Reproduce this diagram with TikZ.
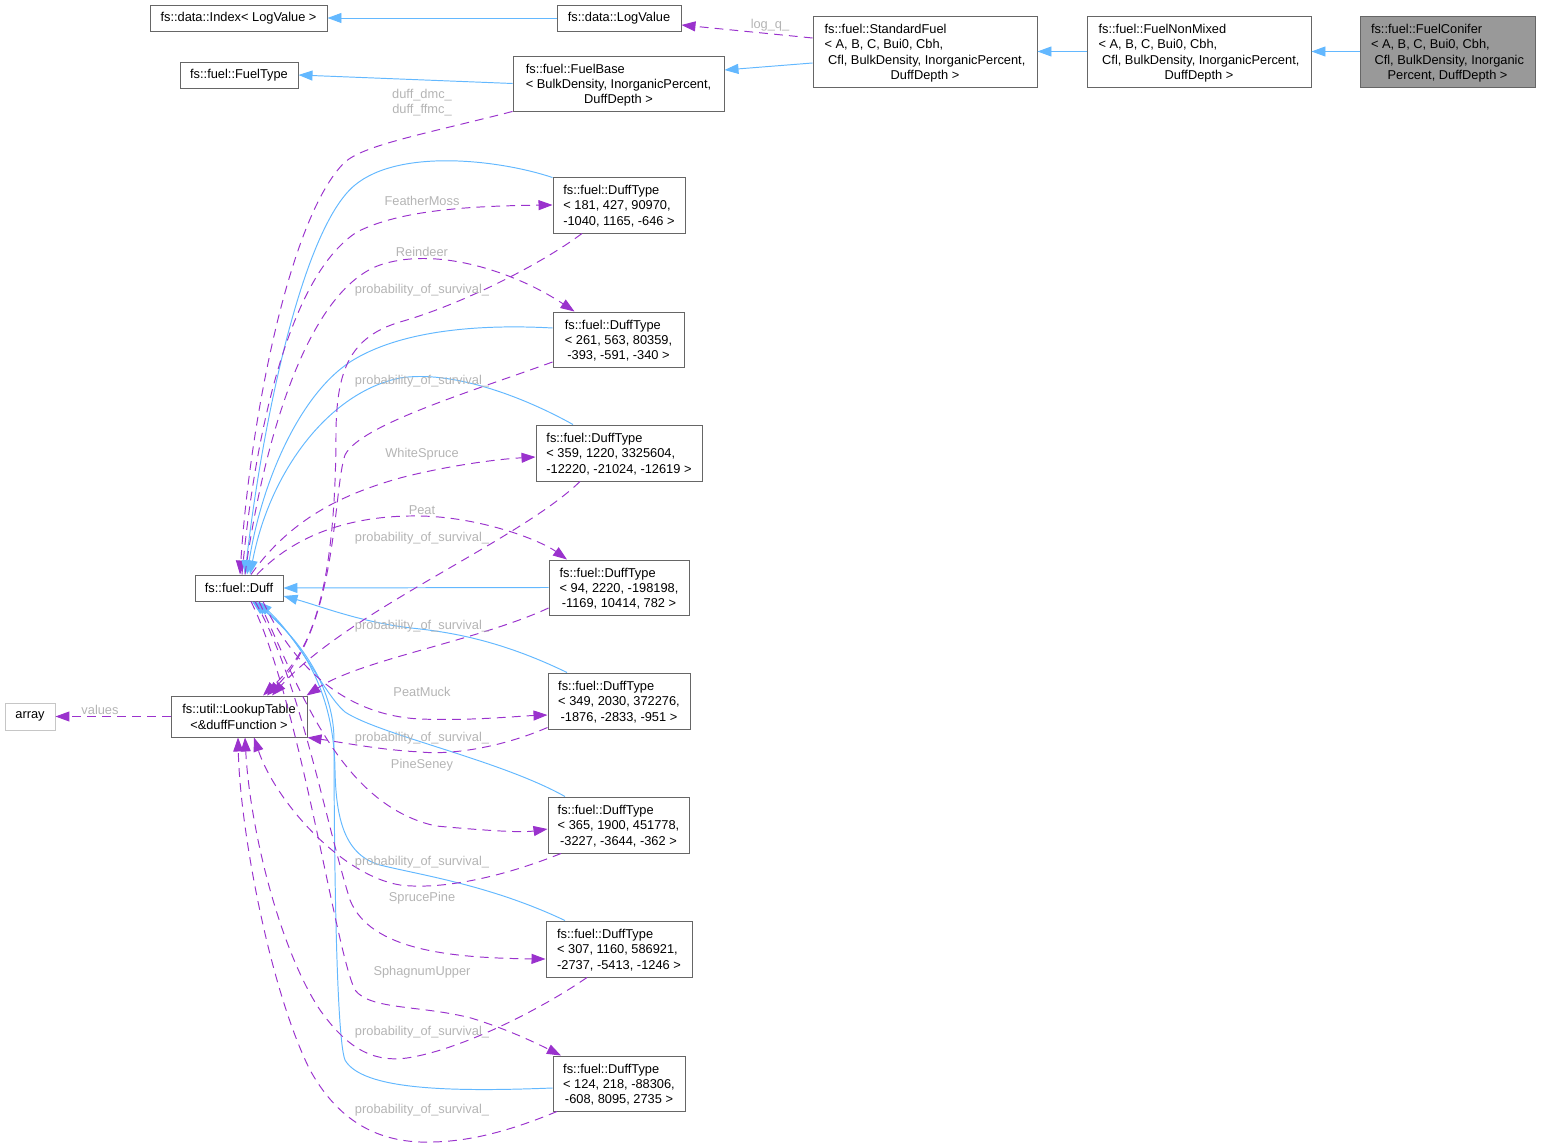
\documentclass[tikz,border=0pt]{standalone}
\usepackage{fontspec}
\setmainfont{Liberation Sans}
\usetikzlibrary{arrows.meta,calc}
\definecolor{inhblue}{HTML}{63B8FF}
\definecolor{usepurple}{HTML}{9A32CD}
\definecolor{boxgray}{HTML}{666666}
\definecolor{lblgray}{HTML}{B4B4B4}
\definecolor{selgray}{HTML}{999999}
\newcommand{\boxtext}[2]{\raisebox{-1.1pt}[\height][\depth]{\begin{tabular}{@{}l@{}}#1\\\multicolumn{1}{@{}c@{}}{#2}\end{tabular}}}

\begin{document}
\begin{tikzpicture}[x=0.02cm,y=-0.02cm,font=\fontsize{7.3}{8.6}\selectfont,
  cls/.style={draw=boxgray,fill=white,line width=0.55pt,inner sep=0pt},
  sz/.style 2 args={minimum width=#1*0.02cm,minimum height=#2*0.02cm},
  inh/.style={draw=inhblue,line width=0.55pt,-{Triangle[length=0.28cm,width=0.2cm]}},
  memb/.style={draw=usepurple,line width=0.55pt,dash pattern=on 5pt off 3.5pt,-{Triangle[length=0.28cm,width=0.2cm]}},
  lbl/.style={text=lblgray,inner sep=0pt,align=center}]

\useasboundingbox (0,0) rectangle (1541,1148);

\node[cls,sz={177}{26}] (idx) at (238.5,18) {fs::data::Index< LogValue >};
\node[cls,sz={124}{26}] (logv) at (619,18) {fs::data::LogValue};
\node[cls,sz={118}{26}] (ftype) at (239,75) {fs::fuel::FuelType};
\node[cls,sz={211}{55}] (fbase) at (618.5,83.5) {\boxtext{fs::fuel::FuelBase\\< BulkDensity, InorganicPercent,}{DuffDepth >}};
\node[cls,sz={224}{71}] (stdf) at (925,51.5) {\boxtext{fs::fuel::StandardFuel\\< A, B, C, Bui0, Cbh,\\\ Cfl, BulkDensity, InorganicPercent,}{DuffDepth >}};
\node[cls,sz={224}{71}] (nonmx) at (1199,51.5) {\boxtext{fs::fuel::FuelNonMixed\\< A, B, C, Bui0, Cbh,\\\ Cfl, BulkDensity, InorganicPercent,}{DuffDepth >}};
\node[cls,fill=selgray,sz={175}{71}] (conif) at (1447.5,51.5) {\boxtext{fs::fuel::FuelConifer\\< A, B, C, Bui0, Cbh,\\\ Cfl, BulkDensity, Inorganic}{Percent, DuffDepth >}};

\node[cls,sz={88}{26}] (duff) at (239,588) {fs::fuel::Duff};
\node[cls,sz={136}{41}] (lut) at (239,716.5) {\boxtext{fs::util::LookupTable}{<\&duffFunction >}};
\node[cls,draw=lightgray!90!white,sz={50}{27}] (arr) at (30,716.5) {array};

\node[cls,sz={132}{56}] (d1) at (619,205) {\boxtext{fs::fuel::DuffType\\< 181, 427, 90970,}{-1040, 1165, -646 >}};
\node[cls,sz={131}{55}] (d2) at (618.5,339.5) {\boxtext{fs::fuel::DuffType\\< 261, 563, 80359,}{-393, -591, -340 >}};
\node[cls,sz={166}{56}] (d3) at (619,453) {\boxtext{fs::fuel::DuffType\\< 359, 1220, 3325604,}{-12220, -21024, -12619 >}};
\node[cls,sz={140}{55}] (d4) at (619,587.5) {\boxtext{fs::fuel::DuffType\\< 94, 2220, -198198,}{-1169, 10414, 782 >}};
\node[cls,sz={142}{56}] (d5) at (619,701) {\boxtext{fs::fuel::DuffType\\< 349, 2030, 372276,}{-1876, -2833, -951 >}};
\node[cls,sz={141}{56}] (d6) at (618.5,825) {\boxtext{fs::fuel::DuffType\\< 365, 1900, 451778,}{-3227, -3644, -362 >}};
\node[cls,sz={146}{56}] (d7) at (619,949) {\boxtext{fs::fuel::DuffType\\< 307, 1160, 586921,}{-2737, -5413, -1246 >}};
\node[cls,sz={132}{55}] (d8) at (619,1083.5) {\boxtext{fs::fuel::DuffType\\< 124, 218, -88306,}{-608, 8095, 2735 >}};

\draw[inh] (logv.west) -- (idx.east);
\draw[inh] (fbase.west) -- (ftype.east);
\draw[inh] ($(stdf.west)+(0,11.5)$) -- ($(fbase.east)+(0,-13.5)$);
\draw[inh] (nonmx.west) -- (stdf.east);
\draw[inh] (conif.west) -- (nonmx.east);

\draw[memb] ($(stdf.west)+(0,-13.5)$) -- ($(logv.east)+(0,7)$);
\node[lbl] (lq) at (770,25) {log\_q\_};

\draw[memb] (fbase.south west) .. controls (420,135) and (365,145) .. (345,162) .. controls (290,215) and (250,420) .. ($(duff.north)+(1,0)$);
\node[lbl] (ldm) at (422,103) {duff\_dmc\_\\duff\_ffmc\_};

\draw[inh] ($(d1.north west)+(0,1)$) .. controls (500,160) and (400,148) .. (355,185) .. controls (300,230) and (260,440) .. ($(duff.north)+(6,0)$);
\draw[inh] ($(d2.west)+(0,-11.5)$) .. controls (480,324) and (400,330) .. (350,362) .. controls (300,395) and (262,480) .. ($(duff.north)+(8,0)$);
\draw[inh] ($(d3.north)+(-46,0)$) .. controls (520,395) and (450,370) .. (400,378) .. controls (330,392) and (270,470) .. ($(duff.north)+(11,0)$);
\draw[inh] (d4.west) -- (duff.east);
\draw[inh] ($(d5.north)+(-52,0)$) .. controls (500,640) and (450,632) .. (411,628) .. controls (360,622) and (320,606) .. ($(duff.east)+(0,8)$);
\draw[inh] ($(d6.north)+(-53.5,0)$) .. controls (500,760) and (380,735) .. (345,712) .. controls (325,695) and (300,640) .. ($(duff.south)+(19,0)$);
\draw[inh] ($(d7.north)+(-54,0)$) .. controls (490,885) and (420,875) .. (380,865) .. controls (345,855) and (336,820) .. (335,770) .. controls (334,690) and (300,640) .. ($(duff.south)+(16,0)$);
\draw[inh] ($(d8.west)+(0,4.5)$) .. controls (450,1092) and (362,1090) .. (345,1060) .. controls (335,1035) and (334,800) .. (334,740) .. controls (334,680) and (290,630) .. ($(duff.south)+(13,0)$);

\draw[memb] ($(duff.north)+(3,0)$) .. controls (255,430) and (290,275) .. (357,232) .. controls (400,210) and (470,206) .. (d1.west);
\draw[memb] ($(duff.north)+(6,0)$) .. controls (265,430) and (310,290) .. (380,265) .. controls (440,245) and (520,275) .. ($(d2.north)+(-44,0)$);
\draw[memb] ($(duff.north)+(12,0)$) .. controls (290,520) and (340,495) .. (400,478) .. controls (450,465) and (500,459) .. ($(d3.west)+(0,4)$);
\draw[memb] ($(duff.north)+(18,0)$) .. controls (300,530) and (360,515) .. (420,516) .. controls (480,517) and (540,540) .. ($(d4.north)+(-52,0)$);
\draw[memb] ($(duff.south)+(24,0)$) .. controls (290,660) and (340,715) .. (420,719) .. controls (470,721) and (520,716) .. ($(d5.west)+(0,14)$);
\draw[memb] ($(duff.south)+(20,0)$) .. controls (300,690) and (340,805) .. (436,826) .. controls (480,830) and (520,833) .. ($(d6.west)+(0,4)$);
\draw[memb] ($(duff.south)+(16,0)$) .. controls (300,680) and (325,820) .. (350,900) .. controls (370,950) and (450,958) .. ($(d7.west)+(0,10)$);
\draw[memb] ($(duff.south)+(12,0)$) .. controls (300,700) and (335,950) .. (355,990) .. controls (370,1010) and (420,1005) .. (471,1018) .. controls (510,1030) and (540,1045) .. ($(d8.north)+(-58,0)$);

\node[lbl] (lfm) at (422,201) {FeatherMoss};
\node[lbl] (lrd) at (422,252) {Reindeer};
\node[lbl] (lws) at (422,454) {WhiteSpruce};
\node[lbl] (lpt) at (422,510) {Peat};
\node[lbl] (lpm) at (422,692) {PeatMuck};
\node[lbl] (lps) at (422,765) {PineSeney};
\node[lbl] (lsp) at (422,898) {SprucePine};
\node[lbl] (lsu) at (422,972) {SphagnumUpper};

\draw[memb] ($(d1.south)+(-37,0)$) .. controls (540,265) and (460,305) .. (400,322) .. controls (350,337) and (337,370) .. (336,430) .. controls (336,620) and (300,660) .. ($(lut.north)+(24,0)$);
\draw[memb] ($(d2.west)+(0,22.5)$) .. controls (470,392) and (360,425) .. (345,455) .. controls (333,490) and (338,625) .. ($(lut.north)+(28,0)$);
\draw[memb] ($(d3.south)+(-39,0)$) .. controls (520,540) and (350,610) .. ($(lut.north)+(33,0)$);
\draw[memb] ($(d4.west)+(0,20.5)$) .. controls (480,640) and (360,660) .. ($(lut.north east)+(-1,0)$);
\draw[memb] ($(d5.south west)+(0,-2)$) .. controls (500,748) and (450,755) .. (421,752) .. controls (380,750) and (340,742) .. (lut.south east);
\draw[memb] ($(d6.south)+(-57.5,0)$) .. controls (500,878) and (440,890) .. (400,885) .. controls (340,875) and (275,800) .. ($(lut.south)+(15,0)$);
\draw[memb] ($(d7.south)+(-32,0)$) .. controls (540,1010) and (460,1050) .. (407,1058) .. controls (370,1063) and (345,1045) .. (320,1010) .. controls (280,950) and (250,830) .. ($(lut.south)+(6,0)$);
\draw[memb] ($(d8.south)+(-62,0)$) .. controls (500,1135) and (460,1143) .. (420,1142) .. controls (370,1140) and (335,1115) .. (310,1070) .. controls (270,990) and (240,830) .. ($(lut.south)+(-1,0)$);

\node[lbl] (lp1) at (422,290) {probability\_of\_survival\_};
\node[lbl] (lp2) at (422,381) {probability\_of\_survival\_};
\node[lbl] (lp3) at (422,538) {probability\_of\_survival\_};
\node[lbl] (lp4) at (422,626) {probability\_of\_survival\_};
\node[lbl] (lp5) at (422,738) {probability\_of\_survival\_};
\node[lbl] (lp6) at (422,862) {probability\_of\_survival\_};
\node[lbl] (lp7) at (422,1032) {probability\_of\_survival\_};
\node[lbl] (lp8) at (422,1110) {probability\_of\_survival\_};

\draw[memb] (lut.west) -- (arr.east);
\node[lbl] (lva) at (100,710) {values};

\end{tikzpicture}
\end{document}
